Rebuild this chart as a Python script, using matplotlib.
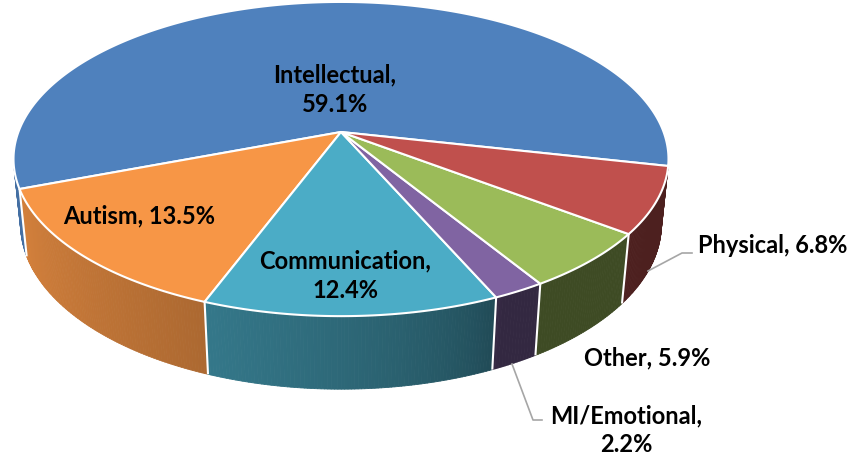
import numpy as np
import matplotlib
matplotlib.use("Agg")
import matplotlib.pyplot as plt
from matplotlib.patches import Polygon
from matplotlib.collections import PolyCollection
from matplotlib.colors import to_rgb

# data
labels = ["Intellectual", "Autism", "Communication", "MI/Emotional", "Other", "Physical"]
values = [59.1, 13.5, 12.4, 2.2, 5.9, 6.8]
colors = ["#4F81BD", "#F79646", "#4BACC6", "#8064A2", "#9BBB59", "#C0504D"]
start_angle = -12.4  # degrees, counter-clockwise

# 3d view of the pie (pixel units)
cx, cy = 341.0, 133.0
scale = 322.6
elev = np.radians(28.2)
dist = 5.12
depth = 0.232


def proj(t, z):
    """angle t (rad) on unit circle at height z -> screen x, y"""
    X, Y = np.cos(t), np.sin(t)
    v = Y * np.sin(elev) + z * np.cos(elev)
    w = Y * np.cos(elev) - z * np.sin(elev)
    s = 1.0 / (1.0 + w / dist)
    return cx + scale * X * s, cy - scale * v * s


def shade(tdeg):
    g = np.clip((295.0 - tdeg) / 95.0, 0, 1)
    return 0.40 + 0.46 * g ** 0.6


plt.rcParams['font.family'] = ['Lato', 'DejaVu Sans']
fig = plt.figure(figsize=(8.61, 4.56), dpi=100)
ax = fig.add_axes([0, 0, 1, 1])
ax.set_xlim(0, 861)
ax.set_ylim(456, 0)
ax.axis("off")

# slice angles
fr = np.array(values) / sum(values) * 360.0
bounds = start_angle + np.concatenate([[0], np.cumsum(fr)])

# visible part of the outer wall
lim = np.degrees(np.arcsin(1.0 / (dist * np.cos(elev))))
vis0, vis1 = 180 + lim, 360 - lim

quads, qcols = [], []
for i in range(len(values)):
    a, b = max(bounds[i], vis0), min(bounds[i + 1], vis1)
    if b <= a:
        continue
    base = np.array(to_rgb(colors[i]))
    ts = np.linspace(a, b, max(int((b - a) * 2), 2))
    for t1, t2 in zip(ts[:-1], ts[1:]):
        r1, r2 = np.radians(t1), np.radians(t2)
        p = [proj(r1, 0), proj(r2, 0), proj(r2, -depth), proj(r1, -depth)]
        quads.append(p)
        qcols.append(np.clip(base * shade((t1 + t2) / 2), 0, 1))
ax.add_collection(PolyCollection(quads, facecolors=qcols, edgecolors=qcols, linewidths=0.6))

# white seams on the wall
for t in bounds:
    if vis0 < t < vis1:
        r = np.radians(t)
        x0, y0 = proj(r, 0)
        x1, y1 = proj(r, -depth)
        ax.plot([x0, x1], [y0, y1], color="white", lw=1.5, solid_capstyle="butt")

# top faces
for i in range(len(values)):
    ts = np.radians(np.linspace(bounds[i], bounds[i + 1], max(int(fr[i] * 2), 3)))
    xs, ys = proj(ts, 0)
    pts = [(cx, cy)] + list(zip(xs, ys))
    ax.add_patch(Polygon(pts, closed=True, facecolor=colors[i], edgecolor="white",
                         lw=1.5, joinstyle="round"))

# labels
fs = 17
kw = dict(fontsize=fs, fontweight="bold", color="black", va="baseline")
ax.text(335, 82, "Intellectual,", ha="center", **kw)
ax.text(335, 112, "59.1%", ha="center", **kw)
ax.text(139, 223, "Autism, 13.5%", ha="center", **kw)
ax.text(345, 268, "Communication,", ha="center", **kw)
ax.text(345, 298, "12.4%", ha="center", **kw)
ax.text(698, 253, "Physical, 6.8%", ha="left", **kw)
ax.text(647, 365, "Other, 5.9%", ha="center", **kw)
ax.text(626, 423, "MI/Emotional,", ha="center", **kw)
ax.text(626, 452, "2.2%", ha="center", **kw)

# leader lines
ax.plot([648, 682, 692], [272, 254, 254], color="#A6A6A6", lw=1.2)
ax.plot([512, 533, 542], [365, 421, 421], color="#A6A6A6", lw=1.2)

fig.savefig("out.png", dpi=100)
